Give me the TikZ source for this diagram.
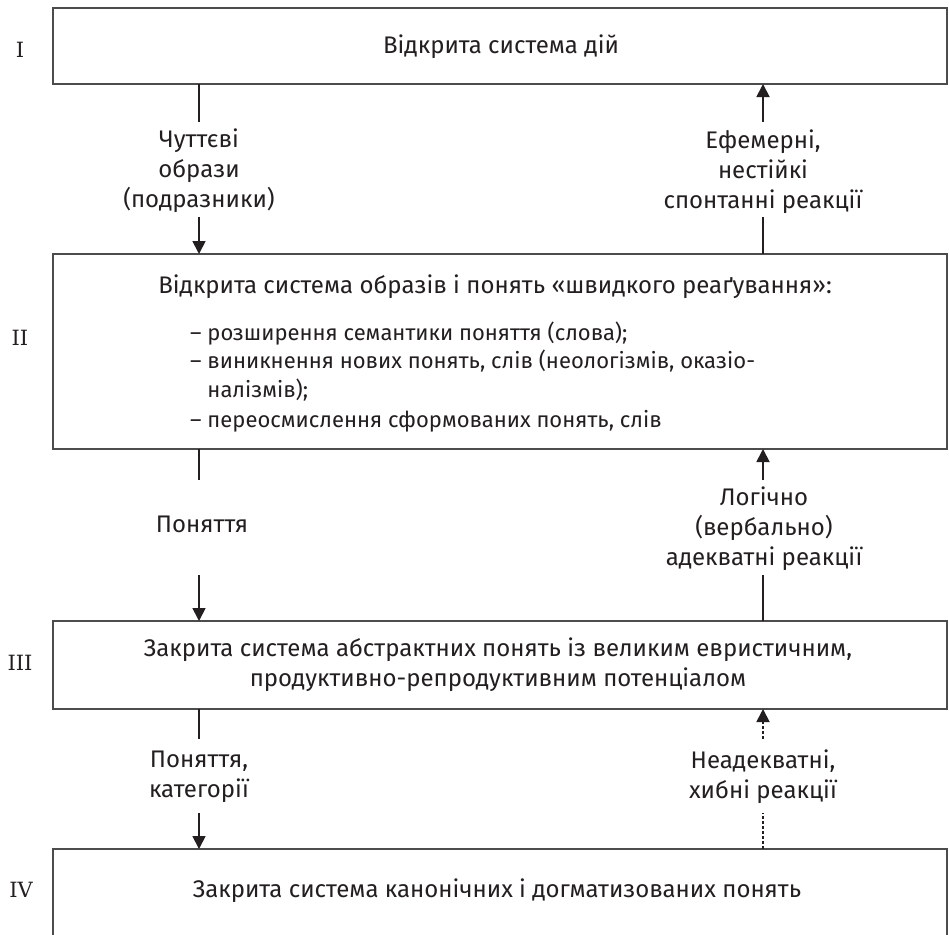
\documentclass[tikz,border=0pt]{standalone}
\usepackage{fontspec}
\setmainfont{Fira Sans}
\newfontfamily\romfont{DejaVu Serif}
\usetikzlibrary{arrows.meta}
\definecolor{ink}{HTML}{231F20}
\tikzset{
  box/.style={draw=black!70, line width=1.2pt, fill=white, inner sep=0pt, outer sep=0pt, minimum width=894pt},
  txt/.style={text=ink, font=\fontsize{24}{30}\selectfont, align=center, inner sep=0pt},
  listtxt/.style={text=ink, font=\fontsize{22}{29}\selectfont, inner sep=0pt, anchor=base west},
  roman/.style={text=ink, font={\romfont\fontsize{21}{24}\selectfont}, inner sep=0pt},
  conn/.style={draw=ink, line width=1.8pt},
  arr/.style={conn, -{Triangle[width=13pt,length=13pt]}},
  dconn/.style={conn, dash pattern=on 3pt off 2pt},
  darr/.style={dconn, -{Triangle[width=13pt,length=13pt]}}
}
\begin{document}
\begin{tikzpicture}[x=1pt,y=-1pt]
\useasboundingbox (0,0) rectangle (949,934);
\clip (0,0) rectangle (949,934);
% boxes
\node[box, minimum height=76pt] (b1) at (500,46) {};
\node[txt] (t1) at (501,47) {Відкрита система дій};
\node[box, minimum height=195pt] (b2) at (500,351.5) {};
\node[txt, anchor=base] (t2) at (495,293) {Відкрита система образів і понять «швидкого реаґування»:};
\node[listtxt] (t2a) at (190,340) {– розширення семантики поняття (слова);};
\node[listtxt] (t2b) at (190,368) {– виникнення нових понять, слів (неологізмів, оказіо-};
\node[listtxt] (t2c) at (190,397) {\phantom{– }налізмів);};
\node[listtxt] (t2d) at (190,427) {– переосмислення сформованих понять, слів};
\node[box, minimum height=88pt] (b3) at (500,665) {};
\node[txt] (t3) at (498,665) {Закрита система абстрактних понять із великим евристичним,\\продуктивно-репродуктивним потенціалом};
\node[box, minimum height=120pt, anchor=north] (b4) at (500,849) {};
\node[txt] (t4) at (497,891) {Закрита система канонічних і догматизованих понять};
% roman numerals
\node[roman] (r1) at (20,50) {I};
\node[roman] (r2) at (20,338) {II};
\node[roman] (r3) at (20,663) {III};
\node[roman] (r4) at (21,890) {IV};
% free ends
\coordinate (l1a) at (199,122); \coordinate (l1b) at (199,217);
\coordinate (r1a) at (763,122); \coordinate (r1b) at (763,217);
\coordinate (l2a) at (199,480); \coordinate (l2b) at (199,575);
\coordinate (r2a) at (763,480); \coordinate (r2b) at (763,575);
\coordinate (l3a) at (199,739); \coordinate (l3b) at (199,813);
\coordinate (r3a) at (763,739); \coordinate (r3b) at (763,813);
% labels
\node[txt] (lab1) at (199,171) {Чуттєві\\образи\\(подразники)};
\node[txt] (lab2) at (763,172) {Ефемерні,\\нестійкі\\спонтанні реакції};
\node[txt] (lab3) at (202,524) {Поняття};
\node[txt] (lab4) at (764,529) {Логічно\\(вербально)\\адекватні реакції};
\node[txt] (lab5) at (199,777) {Поняття,\\категорії};
\node[txt] (lab6) at (763,777) {Неадекватні,\\хибні реакції};
% connectors
\draw[conn] (b1.south -| l1a) -- (l1a);
\draw[arr] (l1b) -- (b2.north -| l1b);
\draw[conn] (b2.north -| r1b) -- (r1b);
\draw[arr] (r1a) -- (b1.south -| r1a);
\draw[conn] (b2.south -| l2a) -- (l2a);
\draw[arr] (l2b) -- (b3.north -| l2b);
\draw[conn] (b3.north -| r2b) -- (r2b);
\draw[arr] (r2a) -- (b2.south -| r2a);
\draw[conn] (b3.south -| l3a) -- (l3a);
\draw[arr] (l3b) -- (b4.north -| l3b);
\draw[dconn] (b4.north -| r3b) -- (r3b);
\draw[darr] (r3a) -- (b3.south -| r3a);
\end{tikzpicture}
\end{document}
